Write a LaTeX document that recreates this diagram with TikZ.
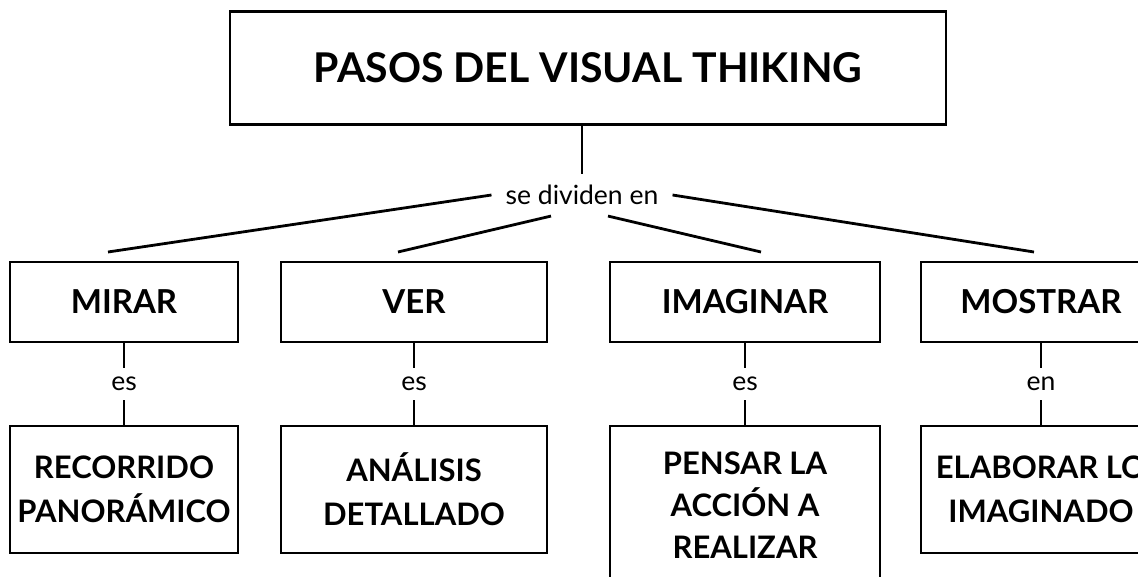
\documentclass[tikz,border=0pt]{standalone}
\usepackage{fontspec}
\setmainfont{Lato}
\usetikzlibrary{calc}
\tikzset{
  box/.style={draw,line width=2.5pt,align=center,inner sep=0pt,
    font=\bfseries\fontsize{33}{44}\selectfont},
  small/.style={font=\bfseries\fontsize{31}{44}\selectfont},
  link/.style={inner xsep=2pt,inner ysep=9pt,font=\fontsize{26.5}{30}\selectfont},
  branch/.style={line width=2.8pt},
  stem/.style={line width=2pt}
}

\begin{document}
\begin{tikzpicture}[x=1pt,y=-1pt]
\useasboundingbox (0,0) rectangle (1138,577);
\clip (0,0) rectangle (1138,577);

\node[box,minimum width=716pt,minimum height=113pt,
  font=\bfseries\fontsize{41}{48}\selectfont] (title) at (588,68) {PASOS DEL VISUAL THIKING};
\node[link,inner xsep=14pt,inner ysep=11pt] (div) at (582,195) {se dividen en};
\draw[stem] (div.north) -- (div.north |- title.south);

% first row
\node[box,minimum width=228pt,minimum height=80pt] (mirar) at (124,302) {MIRAR};
\node[box,minimum width=266pt,minimum height=80pt] (ver) at (414,302) {VER};
\node[box,minimum width=270pt,minimum height=80pt] (imaginar) at (745,302) {IMAGINAR};
\node[box,minimum width=240pt,minimum height=80pt] (mostrar) at (1041,302) {MOSTRAR};

% second row
\node[box,small,minimum width=228pt,minimum height=127pt] (recorrido) at (124,489.5) {RECORRIDO\\PANORÁMICO};
\node[box,small,minimum width=266pt,minimum height=127pt] (analisis) at (414,489.5) {ANÁLISIS\\DETALLADO};
\node[box,small,minimum width=270pt,minimum height=158pt,
  font=\bfseries\fontsize{31}{42}\selectfont] (pensar) at (745,505) {PENSAR LA\\ACCIÓN A\\REALIZAR};
\node[box,small,minimum width=240pt,minimum height=127pt] (elaborar) at (1041,489.5) {ELABORAR LO\\IMAGINADO};

% branches
\coordinate (e1) at (108,252);
\coordinate (e2) at (398,252);
\coordinate (e3) at (761,252);
\coordinate (e4) at (1034,252);
\draw[branch] (div.west) -- (e1);
\draw[branch] ($(div.south)+(-31,0)$) -- (e2);
\draw[branch] ($(div.south)+(26,0)$) -- (e3);
\draw[branch] (div.east) -- (e4);

% links
\node[link] (l1) at ($(mirar.south)!.5!(recorrido.north)$) {es};
\node[link] (l2) at ($(ver.south)!.5!(analisis.north)$) {es};
\node[link] (l3) at ($(imaginar.south)!.5!(pensar.north)$) {es};
\node[link] (l4) at ($(mostrar.south)!.5!(elaborar.north)$) {en};
\foreach \a/\b/\c in {mirar/l1/recorrido,ver/l2/analisis,imaginar/l3/pensar,mostrar/l4/elaborar}
  \draw[stem] (\a) -- (\b) -- (\c);

\end{tikzpicture}
\end{document}
